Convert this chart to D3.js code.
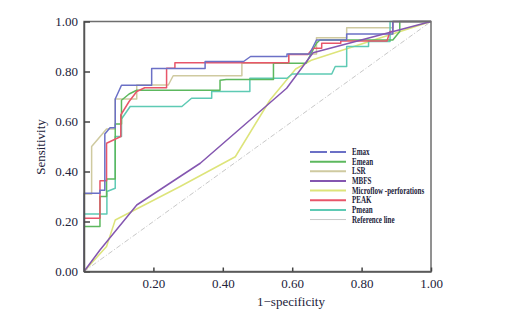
<!DOCTYPE html>
<html>
<head>
<meta charset="utf-8">
<script src="https://cdn.jsdelivr.net/npm/d3@7"></script>
<style>
body { margin: 0; background: #fff; }
text { font-family: "Liberation Serif", "Times New Roman", serif; fill: #22223a; }
</style>
</head>
<body>
<div id="plot"></div>
<script>
var width = 510;
var height = 315;
var pad_left = 84, pad_right = 431, pad_top = 21.5, pad_bottom = 271.5;

// ROC points: [1-specificity, sensitivity]
var emax = [[0,0],[0,0.313],[0.046,0.313],[0.046,0.325],[0.06,0.325],[0.06,0.55],[0.075,0.575],[0.09,0.575],[0.09,0.69],[0.108,0.745],[0.195,0.745],[0.195,0.812],[0.349,0.812],[0.349,0.84],[0.46,0.84],[0.48,0.86],[0.585,0.86],[0.585,0.87],[0.65,0.87],[0.67,0.926],[0.757,0.926],[0.757,0.95],[0.89,0.95],[0.89,1],[1,1]];
var emean = [[0,0],[0,0.18],[0.046,0.18],[0.046,0.30],[0.065,0.30],[0.065,0.37],[0.09,0.37],[0.09,0.59],[0.108,0.59],[0.108,0.685],[0.13,0.71],[0.152,0.725],[0.392,0.725],[0.392,0.765],[0.41,0.768],[0.546,0.768],[0.546,0.833],[0.64,0.833],[0.67,0.913],[0.68,0.926],[0.89,0.926],[0.91,0.96],[0.91,1],[1,1]];
var lsr = [[0,0],[0,0.31],[0.022,0.31],[0.022,0.50],[0.065,0.57],[0.09,0.57],[0.09,0.69],[0.152,0.69],[0.152,0.746],[0.243,0.746],[0.257,0.783],[0.455,0.783],[0.455,0.833],[0.59,0.833],[0.59,0.87],[0.67,0.87],[0.67,0.935],[0.757,0.935],[0.757,0.975],[0.89,0.975],[0.89,1],[1,1]];
var mbfs = [[0,0],[0.046,0.086],[0.152,0.266],[0.335,0.433],[0.584,0.733],[0.66,0.875],[1,1]];
var microflow = [[0,0],[0.065,0.10],[0.09,0.206],[0.277,0.34],[0.436,0.459],[0.536,0.686],[0.61,0.81],[0.655,0.845],[1,1]];
var peak = [[0,0],[0,0.213],[0.046,0.213],[0.046,0.363],[0.065,0.363],[0.065,0.513],[0.106,0.54],[0.106,0.626],[0.13,0.68],[0.152,0.72],[0.175,0.735],[0.238,0.735],[0.238,0.813],[0.262,0.813],[0.262,0.835],[0.59,0.835],[0.59,0.868],[0.645,0.868],[0.66,0.893],[0.685,0.893],[0.685,0.913],[0.74,0.913],[0.74,0.922],[0.873,0.922],[0.882,0.96],[0.89,0.96],[0.89,1],[1,1]];
var pmean = [[0,0],[0,0.23],[0.066,0.23],[0.066,0.32],[0.09,0.333],[0.09,0.54],[0.108,0.54],[0.108,0.61],[0.133,0.66],[0.282,0.66],[0.31,0.693],[0.368,0.693],[0.368,0.72],[0.478,0.72],[0.478,0.773],[0.585,0.773],[0.6,0.79],[0.714,0.79],[0.724,0.82],[0.757,0.82],[0.757,0.9],[0.82,0.9],[0.82,0.92],[0.882,0.92],[0.882,1],[1,1]];
var refline = [[0,0],[1,1]];

var names = ['Emax', 'Emean', 'LSR', 'MBFS', 'Microflow -perforations', 'PEAK', 'Pmean', 'Reference line'];
var colors = ['#6b70c6', '#5cb85e', '#cfcaa0', '#8456b0', '#dde47a', '#e8566a', '#5ecab4', '#c8c8c8'];
var curves = [emax, emean, lsr, mbfs, microflow, peak, pmean, refline];
var ticks = [0, 0.2, 0.4, 0.6, 0.8, 1.0];

var svg = d3.select('#plot')
    .append('svg')
    .attr('width', width)
    .attr('height', height);

var x_scale = d3.scaleLinear().domain([0, 1]).range([pad_left, pad_right]);
var y_scale = d3.scaleLinear().domain([0, 1]).range([pad_bottom, pad_top]);

var line = d3.line()
    .x(function(d) { return x_scale(d[0]); })
    .y(function(d) { return y_scale(d[1]); });

// reference diagonal
svg.append('path')
    .attr('d', line(refline))
    .attr('fill', 'none')
    .attr('stroke', colors[7])
    .attr('stroke-width', 1)
    .attr('stroke-dasharray', '5,2,1,2');

// draw order so the blue sits on top like the picture
var order = [2, 4, 6, 1, 5, 0, 3];
order.forEach(function(i) {
    svg.append('path')
        .attr('d', line(curves[i]))
        .attr('fill', 'none')
        .attr('stroke', colors[i])
        .attr('stroke-width', 1.5)
        .attr('stroke-linejoin', 'round');
});

// frame
svg.append('rect')
    .attr('x', pad_left).attr('y', pad_top)
    .attr('width', pad_right - pad_left).attr('height', pad_bottom - pad_top)
    .attr('fill', 'none')
    .attr('stroke', '#6e6e6e')
    .attr('stroke-width', 1.5);

var y_axis = d3.axisLeft(y_scale)
    .tickValues(ticks)
    .tickFormat(d3.format('.2f'))
    .tickSizeInner(-6).tickSizeOuter(0).tickPadding(6);
var x_axis = d3.axisBottom(x_scale)
    .tickValues(ticks.slice(1))
    .tickFormat(d3.format('.2f'))
    .tickSizeInner(-4).tickSizeOuter(0).tickPadding(7);

var gy = svg.append('g').attr('transform', 'translate(' + pad_left + ',0)').call(y_axis);
var gx = svg.append('g').attr('transform', 'translate(0,' + pad_bottom + ')').call(x_axis);
[gx, gy].forEach(function(g) {
    g.select('.domain').attr('stroke', '#555').attr('stroke-width', 1.5);
    g.selectAll('.tick line').attr('stroke', '#444').attr('stroke-width', 1.5);
    g.selectAll('.tick text')
        .attr('font-family', '"Liberation Serif", serif')
        .attr('font-size', 13)
        .attr('fill', '#22223a');
});

svg.append('text')
    .attr('x', 291).attr('y', 306)
    .attr('text-anchor', 'middle')
    .attr('font-size', 13)
    .text('1\u2212specificity');

svg.append('text')
    .attr('transform', 'translate(45,147) rotate(-90)')
    .attr('text-anchor', 'middle')
    .attr('font-size', 13)
    .text('Sensitivity');

// legend
var legend = svg.append('g').attr('transform', 'translate(310,152)');
names.forEach(function(name, i) {
    var row = legend.append('g').attr('transform', 'translate(0,' + (i * 9.65) + ')');
    row.append('line')
        .attr('x1', 0).attr('x2', 36).attr('y1', 0).attr('y2', 0)
        .attr('stroke', colors[i])
        .attr('stroke-width', i === 7 ? 1 : 2)
        .attr('stroke-dasharray', i === 0 ? '17,3' : null);
    row.append('text')
        .attr('transform', 'translate(42,3) scale(0.74,1)')
        .attr('font-size', 9.5)
        .attr('font-weight', 'bold')
        .attr('fill', '#1c1c3a')
        .text(name);
});
</script>
</body>
</html>
